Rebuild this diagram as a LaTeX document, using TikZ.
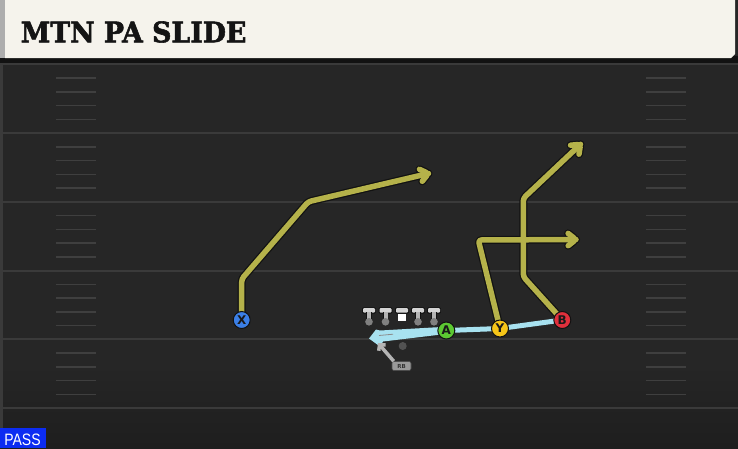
\documentclass[tikz,border=0pt]{standalone}
\usepackage{fontspec}
\setmainfont{DejaVu Sans}
\newfontfamily\titlefont{DejaVu Serif Bold}[FakeBold=2]
\newfontfamily\passfont{Liberation Sans}
\usetikzlibrary{arrows.meta,calc}
\definecolor{field}{HTML}{262626}
\definecolor{fieldb}{HTML}{1E1E1E}
\definecolor{cream}{HTML}{F5F3EC}
\definecolor{stripe}{HTML}{ADADAD}
\definecolor{yardline}{HTML}{3A3A3A}
\definecolor{hash}{HTML}{3F3F3F}
\definecolor{route}{HTML}{B5B24A}
\definecolor{outline}{HTML}{121212}
\definecolor{passblue}{HTML}{A8E2F0}
\definecolor{pxblue}{HTML}{3B7FE6}
\definecolor{pagreen}{HTML}{5CC832}
\definecolor{pyyellow}{HTML}{F5C518}
\definecolor{pbred}{HTML}{E0303C}
\definecolor{lineman}{HTML}{D4D4D4}
\definecolor{rbgray}{HTML}{B4B4B4}
\definecolor{passbox}{HTML}{0C2CF2}
\tikzset{
  player/.style={circle, minimum size=17pt, inner sep=0pt, draw=outline, line width=1pt,
    font=\bfseries\fontsize{12}{12}\selectfont, text=black!90},
  routeout/.style={draw=outline, line width=8pt, line join=round, line cap=round, rounded corners=3pt},
  routein/.style={draw=route, line width=5.5pt, line join=round, line cap=round, rounded corners=3pt},
  hashmark/.style={draw=hash, line width=1.5pt},
  yard/.style={draw=yardline, line width=2pt},
}
\begin{document}
\begin{tikzpicture}[x=1pt,y=-1pt]
\useasboundingbox (0,0) rectangle (738,448);
% field
\fill[field] (0,0) rectangle (738,448);
\shade[top color=field, bottom color=fieldb] (0,365) rectangle (738,448);
\fill[yardline] (0,60) rectangle (2.5,448);
% yard lines
\foreach \k in {0,...,4} {
  \draw[yard] (0,{133+68.75*\k}) -- (738,{133+68.75*\k});
}
% hash marks
\foreach \k in {-1,...,3} {
  \foreach \j in {1,...,4} {
    \draw[hashmark] (56,{133+68.75*\k+13.75*\j}) -- (96,{133+68.75*\k+13.75*\j});
    \draw[hashmark] (646,{133+68.75*\k+13.75*\j}) -- (686,{133+68.75*\k+13.75*\j});
  }
}
% header
\fill[outline] (0,56) rectangle (738,63);
\draw[yardline, line width=2pt] (0,64) -- (738,64);
\fill[cream] (5,0) -- (735,0) -- (735,54) -- (731,58) -- (5,58) -- cycle;
\fill[stripe] (0,0) rectangle (5,58);
\node[anchor=base west, inner sep=0pt, text=black!92] (title) at (20.5,42.3)
  {\scalebox{0.945}[1]{\titlefont\fontsize{28.3}{28.3}\selectfont MTN PA SLIDE}};

% players (positions)
\coordinate (Xp) at (241.7,320);
\coordinate (Ap) at (446.3,330.5);
\coordinate (Yp) at (500,328.5);
\coordinate (Bp) at (562.3,320);

% route corner / end coordinates
\coordinate (x1) at (241.7,279);
\coordinate (x2) at (308.3,201.7);
\coordinate (x3) at (428.5,173.5);
\coordinate (y1) at (478.3,240);
\coordinate (y2) at (576,239.5);
\coordinate (b1) at (523.3,276.7);
\coordinate (b2) at (523.3,198.3);
\coordinate (b3) at (580.5,144.3);

% routes: outline then fill
\foreach \sty in {routeout,routein} {
  \draw[\sty] (Xp) -- (x1) -- (x2) -- (x3);
  \draw[\sty] ($(x3)!10pt!38:(x2)$) -- (x3) -- ($(x3)!10pt!-38:(x2)$);
  \draw[\sty] (Yp) -- (y1) -- (y2);
  \draw[\sty] ($(y2)!10pt!38:(y1)$) -- (y2) -- ($(y2)!10pt!-38:(y1)$);
  \draw[\sty] (Bp) -- (b1) -- (b2) -- (b3);
  \draw[\sty] ($(b3)!10pt!38:(b2)$) -- (b3) -- ($(b3)!10pt!-38:(b2)$);
}

% pass / motion line
\coordinate (qb) at (369,338.5);
\draw[passblue, line width=5pt] (Bp) -- (Yp) -- (Ap);
\fill[passblue] ($(Ap)+(-5,-3.5)$) -- (380,330.5) -- (376,329.5) -- (qb) -- (380,346.5) -- (383,341.5) -- ($(Ap)+(-5,4)$) -- cycle;
\draw[black!45, line width=0.8pt] (379,335.5) -- (393,334.2);

% linemen
\foreach \x in {369,385.5,418,434} {
  \fill[outline, rounded corners=1pt] (\x-6.8,307.3) rectangle (\x+6.8,313.5);
  \fill[lineman, rounded corners=1pt] (\x-6,308) rectangle (\x+6,312.7);
  \fill[outline] (\x-2.7,312.3) rectangle (\x+2.7,320);
  \fill[lineman!85!black] (\x-2,312.3) rectangle (\x+2,319.5);
  \fill[black!50] (\x,321.8) circle (3.8pt);
}
\fill[outline, rounded corners=1pt] (402-6.8,307.3) rectangle (402+6.8,313.5);
\fill[lineman, rounded corners=1pt] (402-6,308) rectangle (402+6,312.7);
\fill[white] (402-3.6,313.8) rectangle (402+3.6,321.2);

% RB
\fill[black!68] (402.7,346) circle (4pt);
\node[rounded corners=2pt, fill=black!40, draw=black!70, line width=0.6pt, minimum width=19pt,
  minimum height=9pt, inner sep=0pt, font=\bfseries\fontsize{5.5}{5.5}\selectfont, text=black!80] (RB) at (401.5,366) {RB};
\coordinate (rbtip) at (378,343);
\draw[rbgray, line width=3.5pt, -{Straight Barb[length=4pt,width=9pt]}] (RB.north west) ++(2,0) -- (rbtip);

% player nodes
\node[player, fill=pxblue] (X) at (Xp) {X};
\node[player, fill=pagreen] (A) at (Ap) {A};
\node[player, fill=pyyellow] (Y) at (Yp) {Y};
\node[player, fill=pbred] (B) at (Bp) {B};

% PASS tag
\fill[passbox] (0,427.7) rectangle (46,448);
\node[inner sep=0pt, text=white, anchor=base] (pass) at (22.5,445)
  {\scalebox{0.85}[1]{\passfont\fontsize{16.5}{16.5}\selectfont PASS}};
\end{tikzpicture}
\end{document}
